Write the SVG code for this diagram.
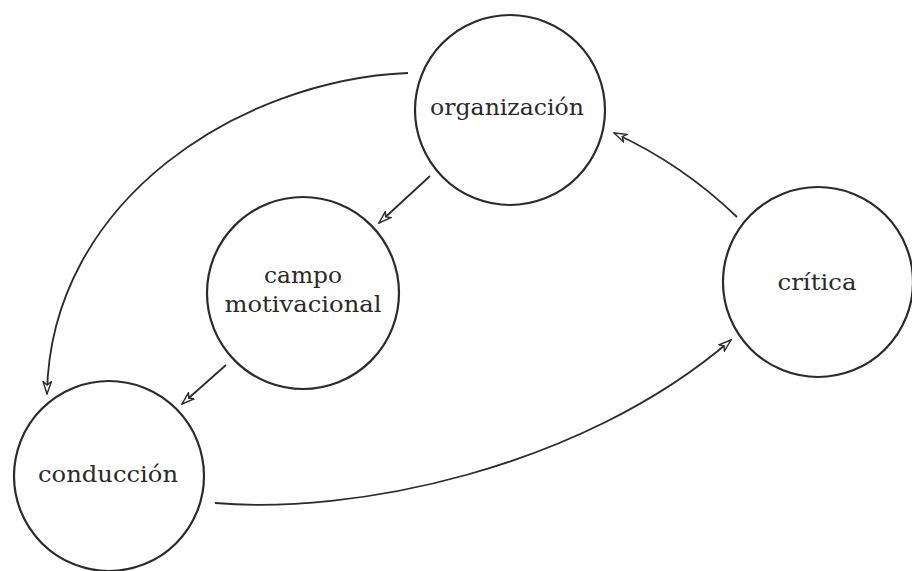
<svg xmlns="http://www.w3.org/2000/svg" width="912" height="571" viewBox="0 0 912 571">
  <style>
    .node circle { fill: none; stroke: #2b2b2b; stroke-width: 2.2; }
    .node text { font-family: "DejaVu Serif", "Liberation Serif", serif; font-size: 22px; fill: #2a2a2a; text-anchor: middle; }
    .edges path { fill: none; stroke: #2b2b2b; stroke-width: 1.8; }
  </style>
  <defs>
    <marker id="arrow" viewBox="0 0 14 10" refX="13" refY="5" markerWidth="14" markerHeight="10" markerUnits="userSpaceOnUse" orient="auto">
      <path d="M0.5,0.8 L13,5 L0.5,9.2 L4,5 z" fill="#fff" stroke="#2b2b2b" stroke-width="1.4" stroke-linejoin="miter"/>
    </marker>
  </defs>
  <rect width="912" height="571" fill="#fff"/>

  <g class="edges">
    <!-- organización -> campo motivacional -->
    <path d="M430,176 L379,223" marker-end="url(#arrow)"/>
    <!-- campo motivacional -> conducción -->
    <path d="M226,365 L182,404" marker-end="url(#arrow)"/>
    <!-- organización -> conducción (outer arc) -->
    <path d="M408,73 C240,80 50,200 47,394" marker-end="url(#arrow)"/>
    <!-- conducción -> crítica -->
    <path d="M215,503 C350,515 580,470 731,340" marker-end="url(#arrow)"/>
    <!-- crítica -> organización -->
    <path d="M737,217 Q682,164 614,133" marker-end="url(#arrow)"/>
  </g>

  <g id="organizacion" class="node">
    <circle cx="510" cy="110" r="95"/>
    <text x="507" y="115" textLength="154" lengthAdjust="spacingAndGlyphs">organización</text>
  </g>
  <g id="campo-motivacional" class="node">
    <circle cx="303" cy="293" r="96"/>
    <text x="303" y="283" textLength="78" lengthAdjust="spacingAndGlyphs">campo</text>
    <text x="303" y="312" textLength="157" lengthAdjust="spacingAndGlyphs">motivacional</text>
  </g>
  <g id="critica" class="node">
    <circle cx="818" cy="282" r="95"/>
    <text x="817" y="290" textLength="79" lengthAdjust="spacingAndGlyphs">crítica</text>
  </g>
  <g id="conduccion" class="node">
    <circle cx="109" cy="476" r="95"/>
    <text x="108" y="482" textLength="140" lengthAdjust="spacingAndGlyphs">conducción</text>
  </g>
</svg>
